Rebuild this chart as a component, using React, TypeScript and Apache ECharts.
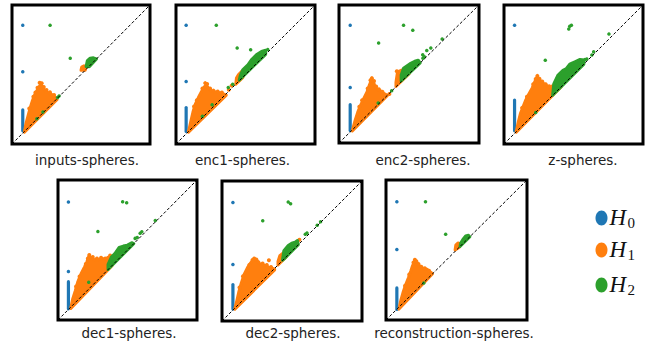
import React, { useEffect, useRef } from "react";
import * as echarts from "echarts";

// ---------- DATA (normalised birth/death coordinates, 0..1) ----------
const panelNames = [
  "inputs-spheres.",
  "enc1-spheres.",
  "enc2-spheres.",
  "z-spheres.",
  "dec1-spheres.",
  "dec2-spheres.",
  "reconstruction-spheres.",
];

// H0 isolated points
const h0Points = [
  [[0.078, 0.855], [0.078, 0.52]],
  [[0.073, 0.855], [0.073, 0.45]],
  [[0.08, 0.854], [0.08, 0.402]],
  [[0.076, 0.854]],
  [[0.075, 0.843], [0.075, 0.346]],
  [[0.078, 0.847], [0.078, 0.403]],
  [[0.077, 0.844], [0.077, 0.504]],
];

// H0 dense column: [birth, lowest death, highest death]
const h0Bars = [
  [0.078, 0.095, 0.245],
  [0.073, 0.09, 0.262],
  [0.08, 0.09, 0.278],
  [0.076, 0.095, 0.316],
  [0.075, 0.08, 0.274],
  [0.078, 0.085, 0.26],
  [0.077, 0.075, 0.229],
];

// H1 dense clouds (outline vertices)
const h1Clouds = [
  [
    [[0.09, 0.088], [0.102, 0.15], [0.117, 0.206], [0.132, 0.262], [0.146, 0.307], [0.163, 0.351], [0.18, 0.383], [0.195, 0.412], [0.21, 0.428], [0.224, 0.407], [0.239, 0.383], [0.263, 0.368], [0.293, 0.354], [0.317, 0.334], [0.327, 0.32], [0.09, 0.085]],
    [[0.5, 0.53], [0.505, 0.553], [0.522, 0.562], [0.535, 0.55], [0.53, 0.53]],
  ],
  [
    [[0.09, 0.088], [0.107, 0.165], [0.122, 0.23], [0.139, 0.286], [0.161, 0.334], [0.18, 0.37], [0.2, 0.407], [0.217, 0.426], [0.234, 0.402], [0.254, 0.383], [0.285, 0.373], [0.317, 0.368], [0.346, 0.358], [0.362, 0.352], [0.09, 0.085]],
    [[0.43, 0.43], [0.435, 0.475], [0.45, 0.5], [0.475, 0.525], [0.49, 0.5], [0.48, 0.478]],
  ],
  [
    [[0.095, 0.09], [0.115, 0.163], [0.134, 0.224], [0.154, 0.273], [0.176, 0.322], [0.2, 0.37], [0.217, 0.42], [0.232, 0.458], [0.246, 0.446], [0.256, 0.412], [0.273, 0.388], [0.298, 0.378], [0.322, 0.358], [0.346, 0.345], [0.095, 0.088]],
    [[0.407, 0.41], [0.407, 0.44], [0.418, 0.515], [0.444, 0.527], [0.48, 0.534], [0.505, 0.525], [0.5, 0.5]],
  ],
  [
    [[0.088, 0.09], [0.103, 0.16], [0.118, 0.219], [0.137, 0.268], [0.154, 0.311], [0.179, 0.36], [0.203, 0.404], [0.22, 0.445], [0.235, 0.477], [0.26, 0.457], [0.289, 0.433], [0.314, 0.414], [0.338, 0.404], [0.363, 0.414], [0.387, 0.445], [0.4, 0.43], [0.412, 0.412], [0.088, 0.085]],
  ],
  [
    [[0.092, 0.085], [0.105, 0.148], [0.124, 0.208], [0.141, 0.269], [0.165, 0.329], [0.19, 0.378], [0.207, 0.414], [0.221, 0.452], [0.238, 0.446], [0.263, 0.431], [0.294, 0.431], [0.324, 0.438], [0.348, 0.431], [0.377, 0.45], [0.384, 0.421], [0.39, 0.39], [0.092, 0.082]],
  ],
  [
    [[0.092, 0.088], [0.107, 0.15], [0.121, 0.211], [0.138, 0.272], [0.158, 0.333], [0.182, 0.381], [0.206, 0.417], [0.226, 0.442], [0.248, 0.434], [0.267, 0.41], [0.286, 0.405], [0.316, 0.393], [0.34, 0.381], [0.376, 0.372], [0.376, 0.365], [0.092, 0.085]],
    [[0.4, 0.4], [0.4, 0.425], [0.413, 0.466], [0.442, 0.49], [0.461, 0.49], [0.46, 0.46]],
  ],
  [
    [[0.092, 0.08], [0.106, 0.144], [0.123, 0.204], [0.14, 0.253], [0.159, 0.302], [0.176, 0.35], [0.188, 0.387], [0.203, 0.42], [0.217, 0.411], [0.237, 0.387], [0.261, 0.37], [0.29, 0.363], [0.321, 0.338], [0.33, 0.33], [0.092, 0.078]],
    [[0.49, 0.5], [0.495, 0.535], [0.51, 0.55], [0.525, 0.545], [0.52, 0.52]],
  ],
];

// H1 isolated points (mostly along the jagged upper edge of each cloud)
const h1Points = [
  [[0.2, 0.44], [0.185, 0.405], [0.215, 0.437], [0.23, 0.41], [0.25, 0.388], [0.155, 0.34], [0.17, 0.37], [0.275, 0.372], [0.305, 0.352], [0.125, 0.255]],
  [[0.4, 0.42], [0.38, 0.39], [0.21, 0.438], [0.224, 0.432], [0.19, 0.4], [0.245, 0.4], [0.27, 0.384], [0.3, 0.378], [0.33, 0.37], [0.15, 0.315], [0.13, 0.27]],
  [[0.235, 0.47], [0.36, 0.355], [0.225, 0.455], [0.25, 0.45], [0.265, 0.41], [0.285, 0.39], [0.31, 0.372], [0.205, 0.395], [0.165, 0.31], [0.145, 0.262], [0.413, 0.52]],
  [[0.24, 0.49], [0.37, 0.425], [0.228, 0.468], [0.255, 0.47], [0.275, 0.45], [0.3, 0.43], [0.325, 0.415], [0.35, 0.415], [0.21, 0.43], [0.165, 0.34], [0.13, 0.26], [0.385, 0.455]],
  [[0.225, 0.465], [0.375, 0.46], [0.215, 0.44], [0.25, 0.45], [0.28, 0.44], [0.31, 0.445], [0.34, 0.44], [0.36, 0.445], [0.2, 0.4], [0.155, 0.31], [0.13, 0.24]],
  [[0.335, 0.434], [0.553, 0.58], [0.23, 0.446], [0.218, 0.435], [0.245, 0.44], [0.26, 0.42], [0.29, 0.41], [0.32, 0.4], [0.35, 0.385], [0.195, 0.4], [0.15, 0.32], [0.125, 0.24]],
  [[0.205, 0.43], [0.195, 0.41], [0.215, 0.42], [0.23, 0.4], [0.25, 0.38], [0.275, 0.37], [0.305, 0.352], [0.165, 0.325], [0.135, 0.245]],
];

// H2 dense clouds
const h2Clouds = [
  [[[0.537, 0.557], [0.546, 0.6], [0.566, 0.617], [0.59, 0.62], [0.612, 0.612], [0.56, 0.555]]],
  [[[0.455, 0.46], [0.462, 0.49], [0.48, 0.533], [0.517, 0.569], [0.546, 0.61], [0.578, 0.642], [0.615, 0.666], [0.645, 0.675], [0.645, 0.645]]],
  [[[0.444, 0.45], [0.444, 0.493], [0.461, 0.541], [0.505, 0.573], [0.541, 0.592], [0.566, 0.6], [0.58, 0.58]]],
  [[[0.35, 0.352], [0.358, 0.433], [0.387, 0.494], [0.424, 0.53], [0.449, 0.543], [0.473, 0.574], [0.51, 0.591], [0.547, 0.608], [0.575, 0.605], [0.575, 0.575]]],
  [[[0.36, 0.362], [0.36, 0.397], [0.384, 0.45], [0.409, 0.475], [0.44, 0.518], [0.47, 0.528], [0.499, 0.535], [0.53, 0.552], [0.545, 0.545]]],
  [[[0.432, 0.434], [0.442, 0.502], [0.473, 0.539], [0.498, 0.556], [0.522, 0.563], [0.539, 0.575], [0.545, 0.545], [0.44, 0.44]]],
  [[[0.525, 0.525], [0.53, 0.55], [0.545, 0.575], [0.565, 0.6], [0.585, 0.605], [0.595, 0.595]]],
];

// H2 isolated points
const h2Points = [
  [[0.276, 0.855], [0.422, 0.617], [0.341, 0.346], [0.224, 0.23], [0.33, 0.335], [0.18, 0.182]],
  [[0.29, 0.855], [0.44, 0.69], [0.537, 0.678], [0.408, 0.43], [0.376, 0.406], [0.26, 0.283], [0.66, 0.68], [0.19, 0.2]],
  [[0.461, 0.854], [0.527, 0.817], [0.283, 0.724], [0.376, 0.378], [0.28, 0.29], [0.598, 0.639], [0.627, 0.671], [0.656, 0.688], [0.737, 0.754], [0.6, 0.615], [0.61, 0.625]],
  [[0.473, 0.847], [0.485, 0.854], [0.466, 0.827], [0.297, 0.603], [0.755, 0.791], [0.645, 0.664], [0.632, 0.64], [0.596, 0.612], [0.583, 0.608], [0.228, 0.226]],
  [[0.465, 0.845], [0.494, 0.838], [0.287, 0.632], [0.591, 0.62], [0.603, 0.631], [0.7, 0.71], [0.555, 0.583], [0.221, 0.269], [0.57, 0.59]],
  [[0.595, 0.619], [0.607, 0.629], [0.68, 0.684], [0.704, 0.709], [0.473, 0.85], [0.49, 0.837], [0.291, 0.716]],
  [[0.28, 0.844], [0.423, 0.613], [0.268, 0.265]],
];

const diagonal = [[0, 0], [1, 1]];
const legendLabels = ["0", "1", "2"];

// ---------- LAYOUT / STYLE ----------
const gridBoxes = [
  { left: 12, top: 5, width: 138, height: 139 },
  { left: 176, top: 5, width: 139, height: 139 },
  { left: 339, top: 5, width: 140, height: 138 },
  { left: 504, top: 5, width: 139, height: 139 },
  { left: 58, top: 180, width: 139, height: 140 },
  { left: 222, top: 181, width: 140, height: 140 },
  { left: 386, top: 180, width: 141, height: 140 },
];
const labelPos = [
  [87, 160], [242.5, 160], [423, 160], [583, 160],
  [129, 333], [293, 333], [454, 333],
];
const COLORS = ["#1f77b4", "#ff7f0e", "#2ca02c"];

function polygonSeries(idx: number, polys: number[][][], color: string, z: number) {
  return {
    type: "custom",
    xAxisIndex: idx,
    yAxisIndex: idx,
    z,
    silent: true,
    data: polys.map((p) => [p[0][0], p[0][1]]),
    renderItem: (params: any, api: any) => {
      const poly = polys[params.dataIndex];
      return {
        type: "polygon",
        shape: { points: poly.map((pt) => api.coord(pt)) },
        style: { fill: color, stroke: color, lineWidth: 3, lineJoin: "round" },
      };
    },
  };
}

function barSeries(idx: number, bar: number[], color: string, z: number) {
  return {
    type: "custom",
    xAxisIndex: idx,
    yAxisIndex: idx,
    z,
    silent: true,
    data: [[bar[0], bar[1], bar[2]]],
    renderItem: (params: any, api: any) => {
      const a = api.coord([api.value(0), api.value(1)]);
      const b = api.coord([api.value(0), api.value(2)]);
      return {
        type: "line",
        shape: { x1: a[0], y1: a[1], x2: b[0], y2: b[1] },
        style: { stroke: color, lineWidth: 3.2, lineCap: "round" },
      };
    },
  };
}

function scatterSeries(idx: number, pts: number[][], color: string, z: number, size = 3.5) {
  return {
    type: "scatter",
    xAxisIndex: idx,
    yAxisIndex: idx,
    z,
    silent: true,
    symbolSize: size,
    itemStyle: { color, opacity: 1 },
    data: pts,
  };
}

export default function App() {
  const ref = useRef<HTMLDivElement>(null);

  useEffect(() => {
    if (!ref.current) return;
    const chart = echarts.init(ref.current, undefined, { renderer: "svg" });

    const grid = gridBoxes.map((g) => ({
      ...g,
      show: true,
      borderColor: "#000",
      borderWidth: 3,
      backgroundColor: "#fff",
      containLabel: false,
    }));
    const axisCommon = { type: "value", min: 0, max: 1, show: false };
    const xAxis = gridBoxes.map((_, i) => ({ ...axisCommon, gridIndex: i }));
    const yAxis = gridBoxes.map((_, i) => ({ ...axisCommon, gridIndex: i }));

    const series: any[] = [];
    panelNames.forEach((_, i) => {
      series.push(barSeries(i, h0Bars[i], COLORS[0], 2));
      series.push(scatterSeries(i, h0Points[i], COLORS[0], 2));
      series.push(polygonSeries(i, h1Clouds[i], COLORS[1], 3));
      series.push(scatterSeries(i, h1Points[i], COLORS[1], 3, 4));
      series.push(polygonSeries(i, h2Clouds[i], COLORS[2], 4));
      series.push(scatterSeries(i, h2Points[i], COLORS[2], 4));
      series.push({
        type: "line",
        xAxisIndex: i,
        yAxisIndex: i,
        z: 10,
        silent: true,
        showSymbol: false,
        symbol: "none",
        data: diagonal,
        lineStyle: { color: "#000", width: 1, type: [3, 2] },
      });
    });

    const graphic: any[] = [];
    panelNames.forEach((name, i) => {
      graphic.push({
        type: "text",
        x: labelPos[i][0],
        y: labelPos[i][1],
        style: {
          text: name,
          fontFamily: "DejaVu Sans",
          fontSize: 13.5,
          fill: "#222",
          align: "center",
          verticalAlign: "middle",
        },
      });
    });
    const legendY = [218, 250, 285];
    legendLabels.forEach((sub, k) => {
      graphic.push({
        type: "ellipse",
        shape: { cx: 601.5, cy: legendY[k], rx: 6, ry: 7.5 },
        style: { fill: COLORS[k] },
      });
      graphic.push({
        type: "text",
        x: 609.5,
        y: legendY[k] - 1,
        style: {
          text: "H",
          fontFamily: "Liberation Serif",
          fontStyle: "italic",
          fontSize: 23,
          fill: "#111",
          align: "left",
          verticalAlign: "middle",
        },
      });
      graphic.push({
        type: "text",
        x: 627.5,
        y: legendY[k] + 5,
        style: {
          text: sub,
          fontFamily: "Liberation Serif",
          fontSize: 15,
          fill: "#111",
          align: "left",
          verticalAlign: "middle",
        },
      });
    });

    chart.setOption({
      animation: false,
      backgroundColor: "#fff",
      grid,
      xAxis,
      yAxis,
      series,
      graphic,
    });

    return () => chart.dispose();
  }, []);

  return (
    <div
      ref={ref}
      style={{ position: "fixed", left: 0, top: 0, width: 652, height: 348 }}
    />
  );
}
